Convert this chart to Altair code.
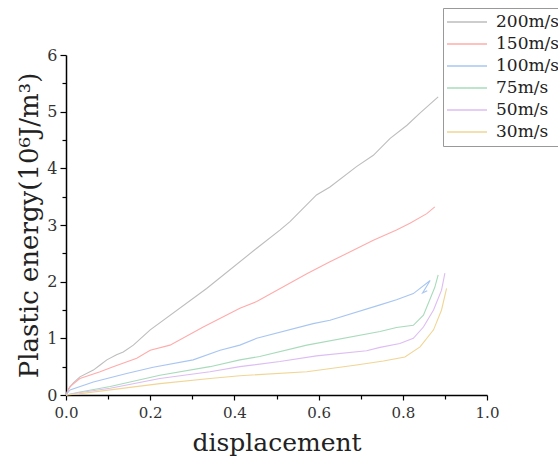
import altair as alt
import pandas as pd

series_names = ["200m/s", "150m/s", "100m/s", "75m/s", "50m/s", "30m/s"]
series_colors = ["#bdbdbd", "#ffabab", "#a8c6f2", "#a8dbbb", "#ddbdf3", "#f0d595"]

x_200 = [0, 0.005, 0.017, 0.033, 0.065, 0.081, 0.097, 0.12, 0.136, 0.16, 0.2, 0.334, 0.453, 0.508, 0.532, 0.595, 0.627, 0.69, 0.73, 0.77, 0.81, 0.84, 0.884]
y_200 = [0, 0.10, 0.21, 0.32, 0.44, 0.53, 0.62, 0.71, 0.76, 0.88, 1.15, 1.88, 2.59, 2.91, 3.06, 3.53, 3.67, 4.03, 4.23, 4.53, 4.76, 4.97, 5.26]

x_150 = [0, 0.0095, 0.033, 0.081, 0.112, 0.168, 0.2, 0.247, 0.326, 0.413, 0.453, 0.572, 0.627, 0.73, 0.785, 0.817, 0.857, 0.876]
y_150 = [0, 0.15, 0.29, 0.41, 0.50, 0.65, 0.79, 0.88, 1.20, 1.53, 1.65, 2.14, 2.35, 2.73, 2.91, 3.03, 3.20, 3.32]

x_100 = [0, 0.0095, 0.065, 0.144, 0.207, 0.302, 0.366, 0.413, 0.453, 0.587, 0.627, 0.746, 0.785, 0.825, 0.865, 0.847, 0.858]
y_100 = [0, 0.088, 0.23, 0.38, 0.49, 0.62, 0.79, 0.88, 1.00, 1.26, 1.32, 1.59, 1.68, 1.79, 2.02, 1.80, 1.84]

x_75 = [0, 0.03, 0.105, 0.223, 0.342, 0.413, 0.46, 0.572, 0.746, 0.785, 0.825, 0.849, 0.865, 0.876, 0.884]
y_75 = [0, 0.05, 0.15, 0.35, 0.50, 0.62, 0.68, 0.88, 1.12, 1.19, 1.23, 1.41, 1.70, 1.90, 2.12]

x_50 = [0, 0.03, 0.105, 0.223, 0.342, 0.413, 0.508, 0.595, 0.714, 0.746, 0.793, 0.825, 0.849, 0.873, 0.892, 0.90]
y_50 = [0, 0.04, 0.12, 0.29, 0.41, 0.50, 0.59, 0.69, 0.78, 0.84, 0.91, 1.00, 1.20, 1.50, 1.85, 2.15]

x_30 = [0, 0.03, 0.105, 0.223, 0.342, 0.413, 0.572, 0.69, 0.754, 0.805, 0.841, 0.873, 0.892, 0.904]
y_30 = [0, 0.02, 0.09, 0.20, 0.29, 0.34, 0.41, 0.53, 0.60, 0.67, 0.85, 1.15, 1.50, 1.88]

x_ticks = [round(i * 0.1, 1) for i in range(11)]
y_ticks = [i * 0.5 for i in range(13)]

xs = [x_200, x_150, x_100, x_75, x_50, x_30]
ys = [y_200, y_150, y_100, y_75, y_50, y_30]
rows = []
for name, xv, yv in zip(series_names, xs, ys):
    for i, (a, b) in enumerate(zip(xv, yv)):
        rows.append({"series": name, "x": a, "y": b, "idx": i})
df = pd.DataFrame(rows)

FONT = "DejaVu Serif"

chart = alt.Chart(df).mark_line(strokeWidth=1.1).encode(
    x=alt.X("x:Q", scale=alt.Scale(domain=[0, 1], nice=False),
            axis=alt.Axis(title="displacement", values=x_ticks,
                          labelExpr="round(datum.value*10) % 2 == 1 ? '' : format(datum.value, '.1f')",
                          tickSize={"condition": {"test": "round(datum.value*10) % 2 == 1", "value": 4}, "value": 5},
                          grid=False, domainColor="black", tickColor="black",
                          domainWidth=1.5, tickWidth=1.2, labelFlush=False,
                          labelFont=FONT, labelFontSize=15, labelColor="#333",
                          labelPadding=5,
                          titleFont=FONT, titleFontSize=25, titleFontWeight="normal",
                          titleColor="#222", titlePadding=10)),
    y=alt.Y("y:Q", scale=alt.Scale(domain=[0, 6], nice=False),
            axis=alt.Axis(title="Plastic energy(10⁶J/m³)", values=y_ticks,
                          labelExpr="datum.value % 1 != 0 ? '' : format(datum.value, 'd')",
                          tickSize={"condition": {"test": "datum.value % 1 != 0", "value": 4}, "value": 6},
                          grid=False, domainColor="black", tickColor="black",
                          domainWidth=1.5, tickWidth=1.2, labelFlush=False,
                          labelFont=FONT, labelFontSize=16, labelColor="#333",
                          labelPadding=3,
                          titleFont=FONT, titleFontSize=26, titleFontWeight="normal",
                          titleColor="#222", titlePadding=4)),
    color=alt.Color("series:N", scale=alt.Scale(domain=series_names, range=series_colors),
                    legend=alt.Legend(title=None, orient="none", legendX=377, legendY=-47,
                                      symbolType="stroke", symbolSize=1600, symbolStrokeWidth=1.5,
                                      clipHeight=22, rowPadding=0,
                                      labelFont=FONT, labelFontSize=17, labelColor="#222",
                                      labelOffset=8,
                                      strokeColor="#999", padding=3)),
    order="idx:Q",
).properties(
    width=421, height=340,
    background="white",
    autosize=alt.AutoSizeParams(type="none"),
    padding={"left": 66, "top": 55, "right": 71, "bottom": 64},
).configure_view(strokeWidth=0)

chart.save("out.html", embed_options={"renderer": "svg", "actions": False})
